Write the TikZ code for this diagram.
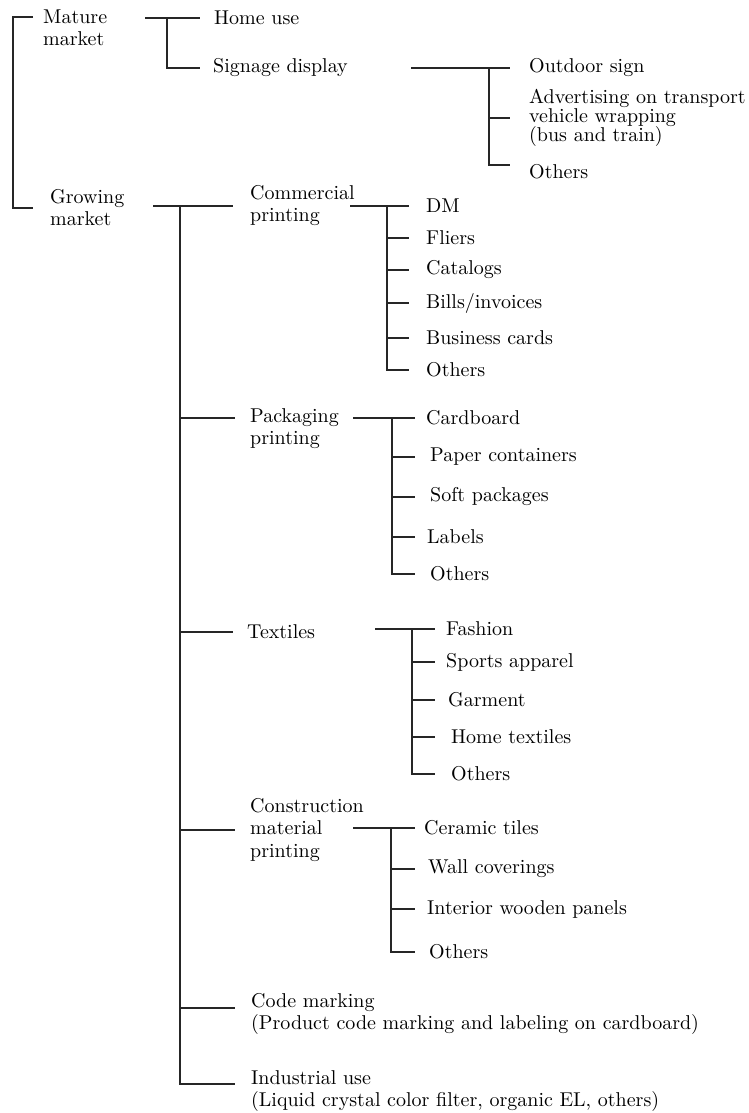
\documentclass[tikz,border=0pt]{standalone}
\usepackage{fontspec}
\setmainfont{lmroman10-regular.otf}
\usepackage{tikz}
\usetikzlibrary{calc}

\newcommand{\tightlines}{\lineskiplimit=-20pt\relax}

\tikzset{
  item/.style={anchor=west,inner sep=0pt,align=left,font=\fontsize{20}{22}\selectfont},
  tightitem/.style={item,font={\fontsize{20}{19}\selectfont\tightlines}},
  branch/.style={draw=black!85,line width=1.1pt}
}

\begin{document}
\begin{tikzpicture}[x=1pt,y=-1pt]
    \useasboundingbox (0,0) rectangle (749,1113);

    % markets
    \node[item] (mature) at (43,28) {Mature\\market};
    \node[item] (growing) at (50,208) {Growing\\market};
    \draw[branch] ([shift={(-10pt,11pt)}]mature.west) -| ([xshift=-37pt]growing.west) -- ([xshift=-17pt]growing.west);

    % mature market
    \node[item] (home) at (214,18) {Home use};
    \node[item] (signage) at (213,68) {Signage display};
    \coordinate (mstart) at (145,18);
    \draw[branch] (mstart) -- ([xshift=-14pt]home.west);
    \draw[branch] ([xshift=-47pt]home.west) |- ([xshift=-13pt]signage.west);

    \node[item] (outdoor) at (529,68) {Outdoor sign};
    \node[tightitem] (advert) at (529,118) {Advertising on transport\\vehicle wrapping\\(bus and train)};
    \node[item] (sigothers) at (529,172) {Others};
    \coordinate (sstart) at (411,68);
    \draw[branch] (sstart) -- ([xshift=-19pt]outdoor.west);
    \draw[branch] ([xshift=-40pt]outdoor.west) |- ([shift={(-19pt,7pt)}]sigothers.west);
    \draw[branch] ([xshift=-40pt]advert.west) -- ([xshift=-19pt]advert.west);

    % growing market
    \node[item] (commercial) at (250,206) {Commercial\\printing};
    \node[item] (packaging) at (250,429) {Packaging\\printing};
    \node[item] (textiles) at (247,632) {Textiles};
    \node[item] (construction) at (250,830) {Construction\\material\\printing};
    \node[item] (code) at (251,1014) {Code marking\\(Product code marking and labeling on cardboard)};
    \node[item] (industrial) at (251,1091) {Industrial use\\(Liquid crystal color filter, organic EL, others)};
    \coordinate (gstart) at (153,206);
    \draw[branch] (gstart) -- ([xshift=-17pt]commercial.west);
    \draw[branch] ([xshift=-70pt]commercial.west) |- ([shift={(-16pt,7pt)}]industrial.west);
    \draw[branch] ([shift={(-70pt,11pt)}]packaging.west) -- ([shift={(-15pt,11pt)}]packaging.west);
    \draw[branch] ([xshift=-67pt]textiles.west) -- ([xshift=-14pt]textiles.west);
    \draw[branch] ([xshift=-70pt]construction.west) -- ([xshift=-15pt]construction.west);
    \draw[branch] ([shift={(-71pt,6pt)}]code.west) -- ([shift={(-16pt,6pt)}]code.west);

    % commercial printing
    \node[item] (dm) at (426,206) {DM};
    \node[item] (fliers) at (426,238) {Fliers};
    \node[item] (catalogs) at (426,270) {Catalogs};
    \node[item] (bills) at (426,303) {Bills/invoices};
    \node[item] (business) at (426,338) {Business cards};
    \node[item] (comothers) at (426,370) {Others};
    \coordinate (cstart) at (350,206);
    \draw[branch] (cstart) -- ([xshift=-17pt]dm.west);
    \draw[branch] ([xshift=-39pt]dm.west) |- ([xshift=-17pt]comothers.west);
    \draw[branch] ([xshift=-39pt]fliers.west) -- ([xshift=-17pt]fliers.west);
    \draw[branch] ([xshift=-39pt]catalogs.west) -- ([xshift=-17pt]catalogs.west);
    \draw[branch] ([xshift=-39pt]bills.west) -- ([xshift=-17pt]bills.west);
    \draw[branch] ([xshift=-39pt]business.west) -- ([xshift=-17pt]business.west);

    % packaging printing
    \node[item] (cardboard) at (426,418) {Cardboard};
    \node[item] (paper) at (430,457) {Paper containers};
    \node[item] (soft) at (430,497) {Soft packages};
    \node[item] (labels) at (427,537) {Labels};
    \node[item] (pakothers) at (430,574) {Others};
    \coordinate (pstart) at (353,418);
    \draw[branch] (pstart) -- ([xshift=-11pt]cardboard.west);
    \draw[branch] ([xshift=-34pt]cardboard.west) |- ([xshift=-15pt]pakothers.west);
    \draw[branch] ([xshift=-38pt]paper.west) -- ([xshift=-15pt]paper.west);
    \draw[branch] ([xshift=-38pt]soft.west) -- ([xshift=-15pt]soft.west);
    \draw[branch] ([xshift=-35pt]labels.west) -- ([xshift=-12pt]labels.west);

    % textiles
    \node[item] (fashion) at (446,629) {Fashion};
    \node[item] (sports) at (446,662) {Sports apparel};
    \node[item] (garment) at (448,700) {Garment};
    \node[item] (hometex) at (451,737) {Home textiles};
    \node[item] (texothers) at (451,774) {Others};
    \coordinate (tstart) at (375,629);
    \draw[branch] (tstart) -- ([xshift=-11pt]fashion.west);
    \draw[branch] ([xshift=-34pt]fashion.west) |- ([xshift=-16pt]texothers.west);
    \draw[branch] ([xshift=-34pt]sports.west) -- ([xshift=-11pt]sports.west);
    \draw[branch] ([xshift=-36pt]garment.west) -- ([xshift=-13pt]garment.west);
    \draw[branch] ([xshift=-39pt]hometex.west) -- ([xshift=-16pt]hometex.west);

    % construction material printing
    \node[item] (ceramic) at (424,828) {Ceramic tiles};
    \node[item] (wall) at (428,869) {Wall coverings};
    \node[item] (interior) at (427,909) {Interior wooden panels};
    \node[item] (conothers) at (429,952) {Others};
    \coordinate (kstart) at (353,828);
    \draw[branch] (kstart) -- ([xshift=-9pt]ceramic.west);
    \draw[branch] ([xshift=-33pt]ceramic.west) |- ([xshift=-14pt]conothers.west);
    \draw[branch] ([xshift=-37pt]wall.west) -- ([xshift=-13pt]wall.west);
    \draw[branch] ([xshift=-36pt]interior.west) -- ([xshift=-12pt]interior.west);
\end{tikzpicture}
\end{document}
